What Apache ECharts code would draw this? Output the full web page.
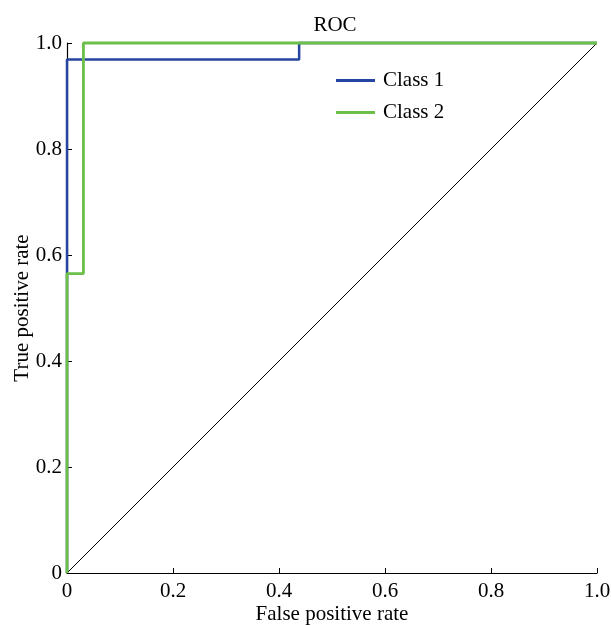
<!DOCTYPE html>
<html><head><meta charset="utf-8">
<script src="https://cdn.jsdelivr.net/npm/echarts@6/dist/echarts.min.js"></script>
<style>html,body{margin:0;padding:0;background:#fff}#c{width:611px;height:625px}</style>
</head><body><div id="c"></div>
<script>
const xTicks = [0, 0.2, 0.4, 0.6, 0.8, 1.0];
const class1X = [0, 0, 0.438, 0.438, 1];
const class1Y = [0, 0.969, 0.969, 1, 1];
const class2X = [0, 0, 0.031, 0.031, 1];
const class2Y = [0, 0.565, 0.565, 1, 1];
const diagX = [0, 1];
const diagY = [0, 1];
const zip = (a, b) => a.map((v, i) => [v, b[i]]);
const font = 'Liberation Serif';
const fs = 21;
const fmt = v => v === 0 ? '0' : v.toFixed(1);
const chart = echarts.init(document.getElementById('c'));
const axisCommon = {
  type: 'value', min: 0, max: 1, interval: 0.2,
  axisLine: {show: true, lineStyle: {color: '#000', width: 1.2}},
  axisTick: {show: true, inside: true, length: 5, lineStyle: {color: '#000'}},
  splitLine: {show: false},
  axisLabel: {color: '#000', fontFamily: font, fontSize: fs, formatter: fmt},
  nameLocation: 'middle',
  nameMoveOverlap: false,
  nameTextStyle: {color: '#000', fontFamily: font, fontSize: fs}
};
chart.setOption({
  animation: false,
  title: {text: 'ROC', left: 330, textAlign: 'center', top: 10,
    textStyle: {fontFamily: font, fontSize: fs, fontWeight: 'normal', color: '#000'}},
  legend: {orient: 'vertical', left: 336, top: 70, itemWidth: 39, itemHeight: 3, itemGap: 11,
    icon: 'rect', data: ['Class 1', 'Class 2'], padding: 0,
    textStyle: {fontFamily: font, fontSize: fs, color: '#000', padding: [0,0,0,3]}},
  grid: {left: 67, right: 14, top: 43, bottom: 52, containLabel: false, outerBoundsMode: 'none'},
  xAxis: Object.assign({}, axisCommon, {name: 'False positive rate', nameGap: 31,
    axisLabel: Object.assign({}, axisCommon.axisLabel, {margin: 8})}),
  yAxis: Object.assign({}, axisCommon, {name: 'True positive rate', nameGap: 34,
    axisLabel: Object.assign({}, axisCommon.axisLabel, {margin: 5})}),
  series: [
    {type: 'line', data: zip(diagX, diagY), symbol: 'none', silent: true, clip: false,
      lineStyle: {color: '#000', width: 1}, z: 1},
    {name: 'Class 1', type: 'line', data: zip(class1X, class1Y), symbol: 'none', clip: false,
      lineStyle: {color: '#2545a0', width: 2.5}, itemStyle: {color: '#2545a0'}, z: 2},
    {name: 'Class 2', type: 'line', data: zip(class2X, class2Y), symbol: 'none', clip: false,
      lineStyle: {color: '#6cc04a', width: 2.8}, itemStyle: {color: '#6cc04a'}, z: 3}
  ]
});
</script></body></html>
